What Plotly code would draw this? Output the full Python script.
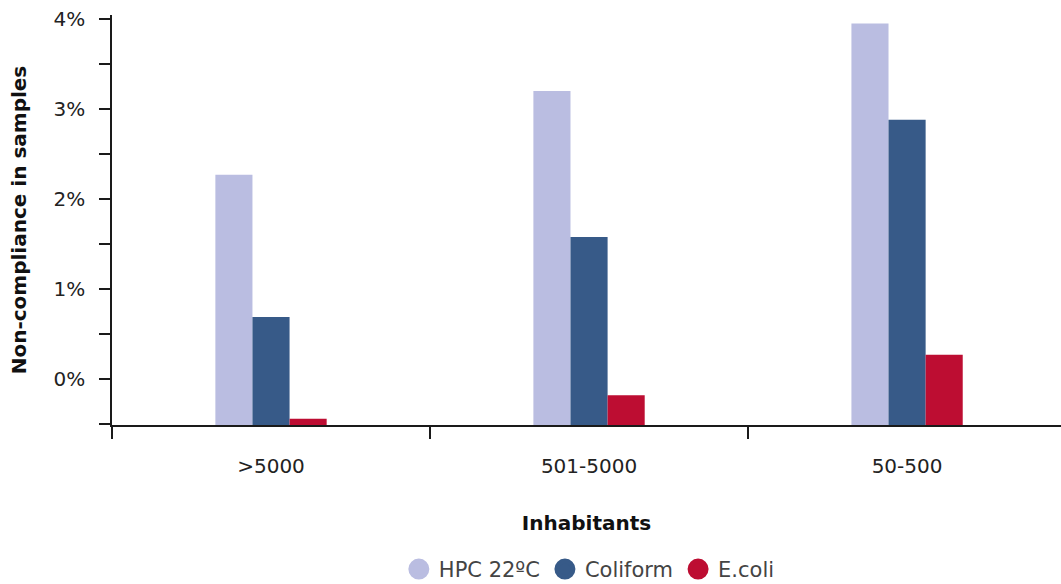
import plotly.graph_objects as go

categories = [">5000", "501-5000", "50-500"]
series_names = ["HPC 22ºC", "Coliform", "E.coli"]
hpc = [2.27, 3.20, 3.95]
coliform = [0.69, 1.58, 2.88]
ecoli = [-0.44, -0.18, 0.27]
colors = ["#babde1", "#375a88", "#bd0d32"]
y_ticks = [0, 1, 2, 3, 4]
y_tick_labels = ["0%", "1%", "2%", "3%", "4%"]

BASE = -0.51
FONT = "DejaVu Sans"
AX = "#1a1a1a"

fig = go.Figure()
for name, vals, col in zip(series_names, [hpc, coliform, ecoli], colors):
    fig.add_trace(go.Bar(
        x=categories, y=[v - BASE for v in vals], base=BASE,
        name=name, marker=dict(color=col, line=dict(width=0)),
        showlegend=False,
    ))
for name, col in zip(series_names, colors):
    fig.add_trace(go.Scatter(
        x=[None], y=[None], mode="markers", name=name,
        marker=dict(color=col, size=16, symbol="circle",
                    line=dict(color=col, width=6)),
    ))

fig.update_layout(
    width=1061, height=584,
    margin=dict(l=112, r=0, t=15, b=159, autoexpand=False),
    plot_bgcolor="white", paper_bgcolor="white",
    barmode="group", bargap=0.65, bargroupgap=0,
    font=dict(family=FONT, size=19, color="#222"),
    showlegend=True,
    legend=dict(orientation="h", x=0.503, xanchor="center", xref="paper",
                yref="container", y=0.025, yanchor="middle",
                font=dict(size=21, color="#444"),
                itemsizing="trace", traceorder="normal"),
)
fig.update_xaxes(
    type="category", range=[-0.5, 2.484], automargin=False,
    tickson="boundaries", ticks="outside", ticklen=12, tickwidth=1.5, tickcolor=AX,
    showline=True, linecolor=AX, linewidth=1.5,
    showgrid=False, zeroline=False,
    ticklabelstandoff=22,
    title=dict(text="Inhabitants", standoff=39,
               font=dict(size=20, color="#111", weight=600)),
    tickfont=dict(size=20, color="#222"),
)
fig.update_yaxes(
    range=[BASE, 4.045], automargin=False,
    tickmode="array", tickvals=y_ticks, ticktext=y_tick_labels,
    ticklabeloverflow="allow",
    ticks="outside", ticklen=11, tickwidth=1.5, tickcolor=AX,
    minor=dict(tickmode="linear", tick0=0, dtick=0.5, ticks="outside", ticklen=11,
               tickwidth=1.5, tickcolor=AX, showgrid=False),
    showline=True, linecolor=AX, linewidth=1.5,
    showgrid=False, zeroline=False,
    ticklabelstandoff=10,
    title=dict(text="Non-compliance in samples", standoff=22,
               font=dict(size=20, color="#111", weight=600)),
    tickfont=dict(size=20, color="#222"),
)

fig.write_html("out.html", config={"displayModeBar": False},
               post_script="document.body.style.margin='0';document.body.style.overflow='hidden';")
